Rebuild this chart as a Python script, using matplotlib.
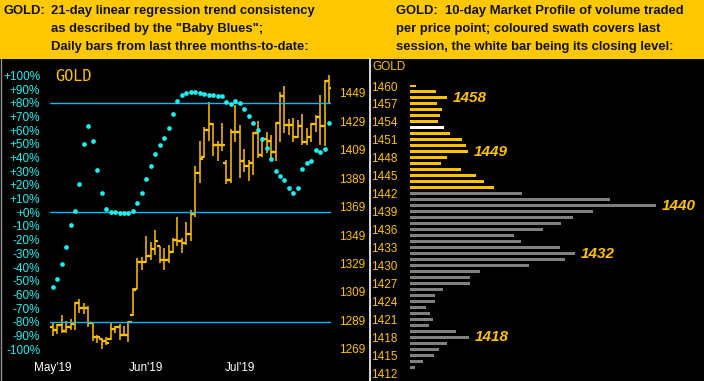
import matplotlib
matplotlib.use("Agg")
import matplotlib.pyplot as plt
from matplotlib.patches import Rectangle
from matplotlib.lines import Line2D
import numpy as np

# ---- data: daily bars (May'19 .. Jul'19) ----
highs = [1287.4, 1286.4, 1292.8, 1288.8, 1289.7, 1302.1, 1303.8, 1301.4, 1299.1, 1288.0,
         1278.7, 1276.3, 1277.0, 1287.4, 1285.0, 1286.4, 1285.0, 1288.8, 1311.5, 1332.6,
         1333.8, 1348.3, 1344.3, 1352.6, 1341.3, 1339.6, 1342.0, 1346.7, 1362.0, 1346.7,
         1358.4, 1366.6, 1397.6, 1415.4, 1425.3, 1442.9, 1428.1, 1415.4, 1428.1, 1401.8,
         1423.4, 1440.5, 1426.5, 1409.3, 1401.8, 1421.8, 1429.3, 1418.2, 1421.8, 1419.4,
         1428.8, 1449.9, 1453.9, 1430.4, 1431.1, 1430.0, 1434.2, 1424.1, 1427.6, 1433.5,
         1447.6, 1458.1, 1461.6]
lows = [1278.2, 1279.4, 1280.3, 1280.3, 1282.2, 1282.2, 1294.4, 1293.5, 1284.5, 1274.7,
        1272.8, 1268.8, 1271.6, 1275.2, 1280.3, 1275.2, 1278.0, 1274.0, 1292.0, 1310.8,
        1324.4, 1329.1, 1331.4, 1334.9, 1329.1, 1324.4, 1329.1, 1336.1, 1341.3, 1336.6,
        1342.0, 1345.1, 1361.5, 1385.9, 1403.5, 1415.4, 1404.6, 1401.3, 1408.4, 1384.9,
        1385.9, 1414.7, 1388.9, 1393.6, 1387.3, 1391.3, 1403.0, 1404.2, 1406.5, 1401.8,
        1401.3, 1414.7, 1421.1, 1419.4, 1414.7, 1417.1, 1412.4, 1412.4, 1414.7, 1421.8,
        1412.4, 1411.7, 1442.2]
opens = [1284.0, 1282.2, 1285.7, 1281.5, 1284.5, 1286.4, 1301.0, 1297.5, 1297.5, 1287.4,
         1277.5, 1276.0, 1274.7, 1276.0, 1282.9, 1284.1, 1278.7, 1278.7, 1293.0, 1311.0,
         1330.3, 1330.2, 1334.5, 1339.2, 1341.0, 1331.4, 1331.4, 1337.3, 1345.5, 1345.1,
         1343.2, 1349.7, 1363.8, 1392.4, 1404.0, 1422.9, 1426.9, 1412.6, 1412.6, 1400.0,
         1387.7, 1421.8, 1421.8, 1401.3, 1397.6, 1399.9, 1421.1, 1405.3, 1416.4, 1415.4,
         1407.7, 1428.1, 1446.9, 1426.5, 1426.5, 1418.2, 1425.8, 1414.7, 1418.2, 1427.2,
         1431.9, 1425.8, 1457.7]
closes = [1282.2, 1285.7, 1281.5, 1284.5, 1286.4, 1301.0, 1297.5, 1297.5, 1287.4, 1277.5,
          1277.0, 1274.7, 1272.8, 1282.9, 1284.1, 1278.7, 1278.7, 1288.1, 1310.3, 1330.3,
          1330.2, 1334.5, 1339.2, 1345.1, 1331.4, 1331.4, 1337.3, 1345.5, 1345.1, 1343.2,
          1349.7, 1363.8, 1392.4, 1402.8, 1422.9, 1426.9, 1412.6, 1412.6, 1412.6, 1387.7,
          1421.8, 1421.8, 1401.3, 1397.6, 1399.9, 1421.1, 1405.3, 1416.4, 1415.4, 1407.7,
          1428.1, 1446.9, 1426.5, 1426.5, 1418.2, 1425.8, 1414.7, 1418.2, 1427.2, 1431.9,
          1425.8, 1457.7, 1452.7]
# "Baby Blues": 21-day linear regression trend consistency (%)
baby_blues = [-54.4, -48.8, -38.0, -25.1, -9.1, 1.2, 20.7, 49.9, 63.1, 52.1,
              30.9, 14.1, 2.4, 0.2, 0.2, -0.5, -0.5, -0.5, 1.0, 7.0,
              14.3, 24.6, 33.8, 42.6, 49.2, 54.5, 61.6, 72.1, 81.6, 86.0,
              87.4, 87.9, 87.9, 87.4, 86.5, 86.0, 86.0, 85.2, 85.2, 80.6,
              79.4, 81.4, 79.9, 75.5, 70.4, 65.5, 60.2, 53.8, 47.0, 39.0,
              30.2, 26.5, 23.6, 18.0, 14.3, 18.0, 31.7, 36.0, 37.7, 45.8,
              44.3, 46.5, 65.5]
months = ["May'19", "Jun'19", "Jul'19"]
month_start = [0, 21, 42]
pct_ticks = list(range(-100, 101, 10))
price_ticks = [1269, 1289, 1309, 1329, 1349, 1369, 1389, 1409, 1429, 1449]
bb_levels = [80, 0, -80]

# ---- data: 10-day market profile ----
mp_prices = list(range(1460, 1412, -1))
mp_volume = [6, 26, 37, 27, 32, 30, 28, 34, 40, 52, 56, 58, 37, 31, 51, 66, 74, 84,
             112, 200, 246, 183, 163, 151, 133, 104, 111, 150, 165, 155, 119, 70, 60, 60,
             33, 25, 25, 16, 20, 23, 19, 46, 59, 37, 29, 24, 13, 5]
mp_ticks = list(range(1412, 1461, 3))
swath_low, swath_high = 1443, 1460
last_close = 1453
mp_peaks = [1458, 1449, 1440, 1432, 1418]

GOLD = '#FFC000'
CYAN = '#1EF0F0'
LINE = '#10B8F0'
W, H = 704, 381
NARROW = ['Liberation Sans Narrow', 'Liberation Sans', 'DejaVu Sans']
SANS = ['Liberation Sans', 'DejaVu Sans']

fig = plt.figure(figsize=(W / 100, H / 100), dpi=100, facecolor='black')


def fx(x):
    return x / W


def fy(y):
    return 1 - y / H


# header band
fig.patches.append(Rectangle((0, fy(59)), 1, 59 / H, transform=fig.transFigure,
                             facecolor='#FFC800', edgecolor='none'))
hdr = dict(fontsize=9.4, fontweight='bold', color='#111111', family=NARROW, va='center')
fig.text(fx(4), fy(11), 'GOLD:', **hdr)
fig.text(fx(51), fy(11), '21-day linear regression trend consistency', **hdr)
fig.text(fx(51), fy(29), 'as described by the "Baby Blues";', **hdr)
fig.text(fx(51), fy(47), 'Daily bars from last three months-to-date:', **hdr)
fig.text(fx(396), fy(11), 'GOLD:  10-day Market Profile of volume traded', **hdr)
fig.text(fx(396), fy(29), 'per price point; coloured swath covers last', **hdr)
fig.text(fx(396), fy(47), 'session, the white bar being its closing level:', **hdr)

# frame lines
fig.add_artist(Line2D([fx(369.5), fx(369.5)], [0, fy(59)], transform=fig.transFigure,
                      color='white', lw=1.2))
fig.add_artist(Line2D([fx(0.5), fx(0.5)], [0, fy(59)], transform=fig.transFigure,
                      color='#909090', lw=1.0))

# ---- left panel ----
ax = fig.add_axes([fx(50), fy(356), 281 / W, 294 / H], facecolor='black')
ax2 = ax.twinx()
n = len(closes)
x = np.arange(n)

ax.set_ylim((212.3 - 356) / 1.368, (212.3 - 62) / 1.368)
ax2.set_ylim(1269 + (348.7 - 356) / 1.421, 1269 + (348.7 - 62) / 1.421)
ax.set_xlim(-0.6, n - 0.55)

for lv in bb_levels:
    ax.axhline(lv, color=LINE, lw=1.0, zorder=1)

ax2.vlines(x, lows, highs, color=GOLD, lw=1.1, zorder=2)
ax2.hlines(opens, x - 0.7, x, color=GOLD, lw=1.6, zorder=2)
ax2.hlines(closes, x, x + 0.7, color=GOLD, lw=1.6, zorder=2)
ax.plot(x, baby_blues, 'o', color=CYAN, ms=3.4, mec='none', zorder=3)
ax.set_zorder(ax2.get_zorder() + 1)
ax.patch.set_visible(False)
ax2.patch.set_facecolor('black')

ax.set_yticks(pct_ticks)
ax.set_yticklabels([('+%d%%' % v) if v >= 0 else ('%d%%' % v) for v in pct_ticks])
ax.tick_params(axis='y', colors=CYAN, labelsize=8.5, length=0, pad=7)
ax2.set_yticks(price_ticks)
ax2.set_yticklabels([str(v) for v in price_ticks])
ax2.tick_params(axis='y', colors=GOLD, labelsize=8.5, length=0, pad=6)
ax.set_xticks(month_start)
ax.set_xticklabels(months)
ax.tick_params(axis='x', colors='white', labelsize=8.5, length=0, pad=4)
for a in (ax, ax2):
    for s in a.spines.values():
        s.set_visible(False)
for lab in ax.get_yticklabels() + ax2.get_yticklabels() + ax.get_xticklabels():
    lab.set_family(SANS)
ax.text(0.5, 99.5, 'GOLD', color=GOLD, fontsize=11, family='DejaVu Sans Mono',
        va='center', ha='left')

# ---- right panel: market profile ----
axp = fig.add_axes([fx(410), 0, 294 / W, (H - 62) / H], facecolor='black')
colors = ['white' if p == last_close else (GOLD if swath_low <= p <= swath_high else '#808080')
          for p in mp_prices]
axp.barh(mp_prices, mp_volume, height=0.5, color=colors, zorder=2)
axp.set_ylim(1412 - (381 - 373.3) / 5.985, 1460 + (86 - 62) / 5.985)
axp.set_xlim(0, 294)
axp.set_yticks(mp_ticks)
axp.set_yticklabels([str(v) for v in mp_ticks], family=SANS)
axp.tick_params(axis='y', colors=GOLD, labelsize=8.5, length=0, pad=9)
axp.set_xticks([])
for s in axp.spines.values():
    s.set_visible(False)
vol = dict(zip(mp_prices, mp_volume))
for p in mp_peaks:
    axp.text(vol[p] + 6, p, str(p), color=GOLD, fontsize=11, fontweight='bold',
             fontstyle='italic', family=SANS, va='center', ha='left')
fig.text(fx(372), fy(67), 'GOLD', color=GOLD, fontsize=8.5, family=SANS, va='center')

fig.savefig('out.png', dpi=100, facecolor='black')
